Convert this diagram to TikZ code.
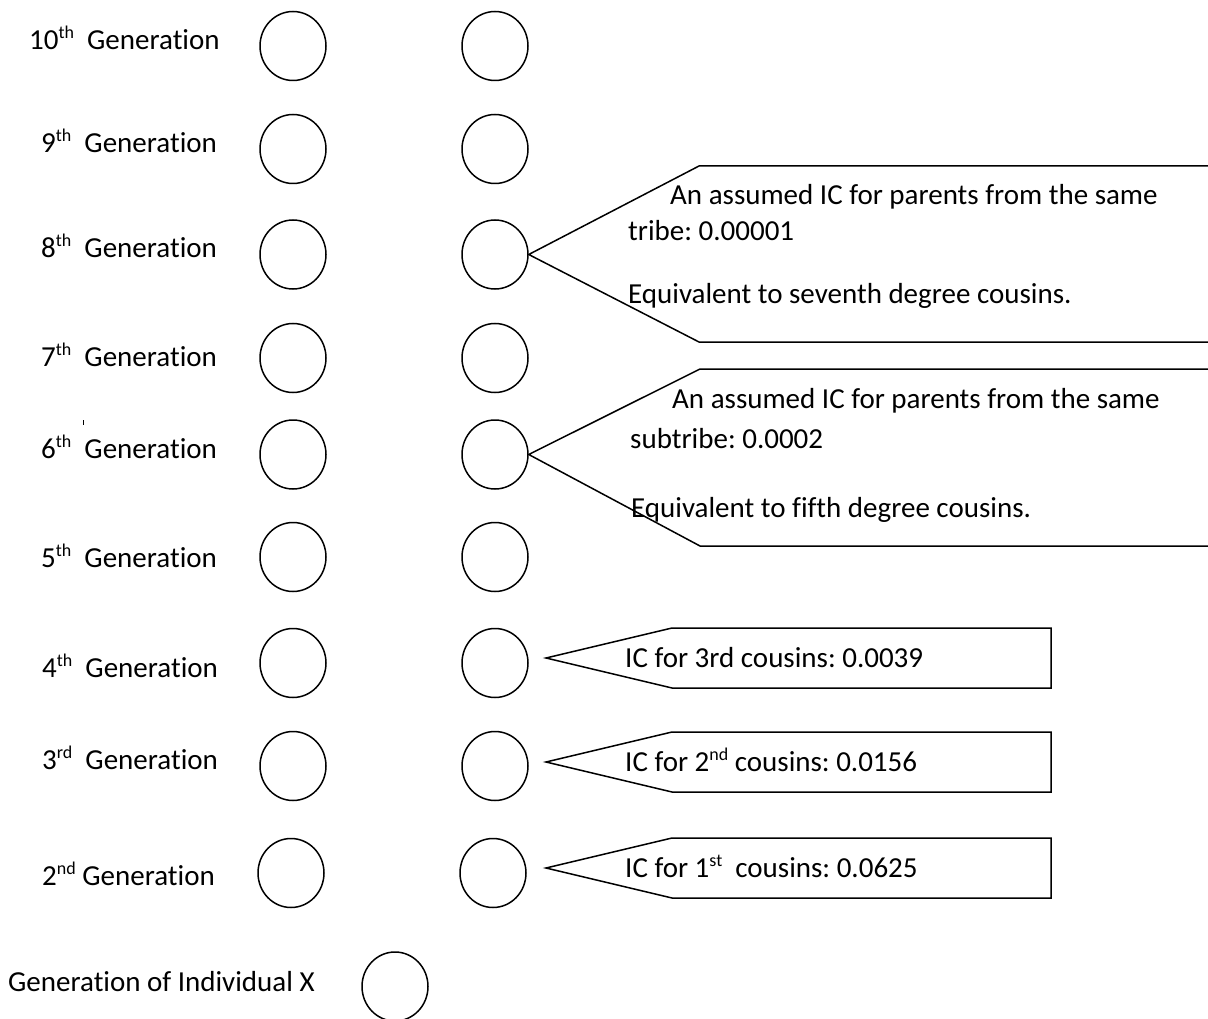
\documentclass[tikz,border=0pt]{standalone}
\usepackage{fontspec}
\setmainfont{Carlito}[Ligatures={NoCommon,NoRequired,NoContextual,NoRare},Contextuals={NoAlternate}]
\usetikzlibrary{shapes.geometric}
% small raised ordinal suffix
\newcommand\ordsup[1]{\raisebox{11pt}{\fontsize{18}{18}\selectfont #1}}
\begin{document}
\frenchspacing
\begin{tikzpicture}[x=1pt,y=-1pt,
  person/.style={ellipse,draw,line width=1.5pt,minimum width=66pt,minimum height=69pt,inner sep=0pt},
  lbl/.style={anchor=base west,inner sep=0pt,font=\fontsize{29}{35}\selectfont},
  callout/.style={draw,line width=1.5pt,line join=miter}]
\useasboundingbox (0,0) rectangle (1208,1019);
\clip (0,0) rectangle (1208,1019);

% ancestors, two per generation
\foreach \n/\y in {10/46,9/149,8/254.5,7/358,6/454.5,5/557,4/663,3/766}{
  \node[person] (l\n) at (293,\y) {};
  \node[person] (r\n) at (495,\y) {};
}
\node[person] (l2) at (291,873) {};
\node[person] (r2) at (493,873) {};
\node[person] (x) at (395,986.5) {};

% generation labels
\node[lbl] (g10) at (29,49.5)  {10\ordsup{th}\ \ Generation};
\node[lbl] (g9)  at (41,152.5) {9\ordsup{th}\ \ Generation};
\node[lbl] (g8)  at (41,257.5) {8\ordsup{th}\ \ Generation};
\node[lbl] (g7)  at (41,366.5) {7\ordsup{th}\ \ Generation};
\node[lbl] (g6)  at (41,458.5) {6\ordsup{th}\ \ Generation};
\node[lbl] (g5)  at (41,567.5) {5\ordsup{th}\ \ Generation};
\node[lbl] (g4)  at (42,677)   {4\ordsup{th}\ \ Generation};
\node[lbl] (g3)  at (42,769)   {3\ordsup{rd}\ \ Generation};
\node[lbl] (g2)  at (42,885)   {2\ordsup{nd} Generation};
\node[lbl] (gx)  at (8,991)    {Generation of Individual X};
\draw[line width=0.8pt] (83,420) -- (83,425);

% wide callouts running off the right side
\draw[callout] (1215,166) -- (699,166) -- (r8.east) -- (699,342) -- (1215,342);
\node[lbl] (t8a) at (670,205) {An assumed IC for parents from the same};
\node[lbl] (t8b) at (628,241) {tribe: 0.00001};
\node[lbl] (t8c) at (628,303) {Equivalent to seventh degree cousins.};

\draw[callout] (1215,369) -- (700,369) -- (r6.east) -- (700,546) -- (1215,546);
\node[lbl] (t6a) at (672,408) {An assumed IC for parents from the same};
\node[lbl] (t6b) at (630,448) {subtribe: 0.0002};
\node[lbl] (t6c) at (631,517) {Equivalent to fifth degree cousins.};

% short pointed callouts
\coordinate (p4) at (546,658);
\coordinate (p3) at (546,762);
\coordinate (p2) at (546,868);
\draw[callout] (p4) -- (672,628) -- (1051,628) -- (1051,688) -- (672,688) -- cycle;
\draw[callout] (p3) -- (672,732) -- (1051,732) -- (1051,792) -- (672,792) -- cycle;
\draw[callout] (p2) -- (672,838) -- (1051,838) -- (1051,898) -- (672,898) -- cycle;
\node[lbl] (t4) at (625,667) {IC for 3rd cousins: 0.0039};
\node[lbl] (t3) at (625,771) {IC for 2\ordsup{nd} cousins: 0.0156};
\node[lbl] (t2) at (625,877) {IC for 1\ordsup{st}\ \ cousins: 0.0625};
\end{tikzpicture}
\end{document}
